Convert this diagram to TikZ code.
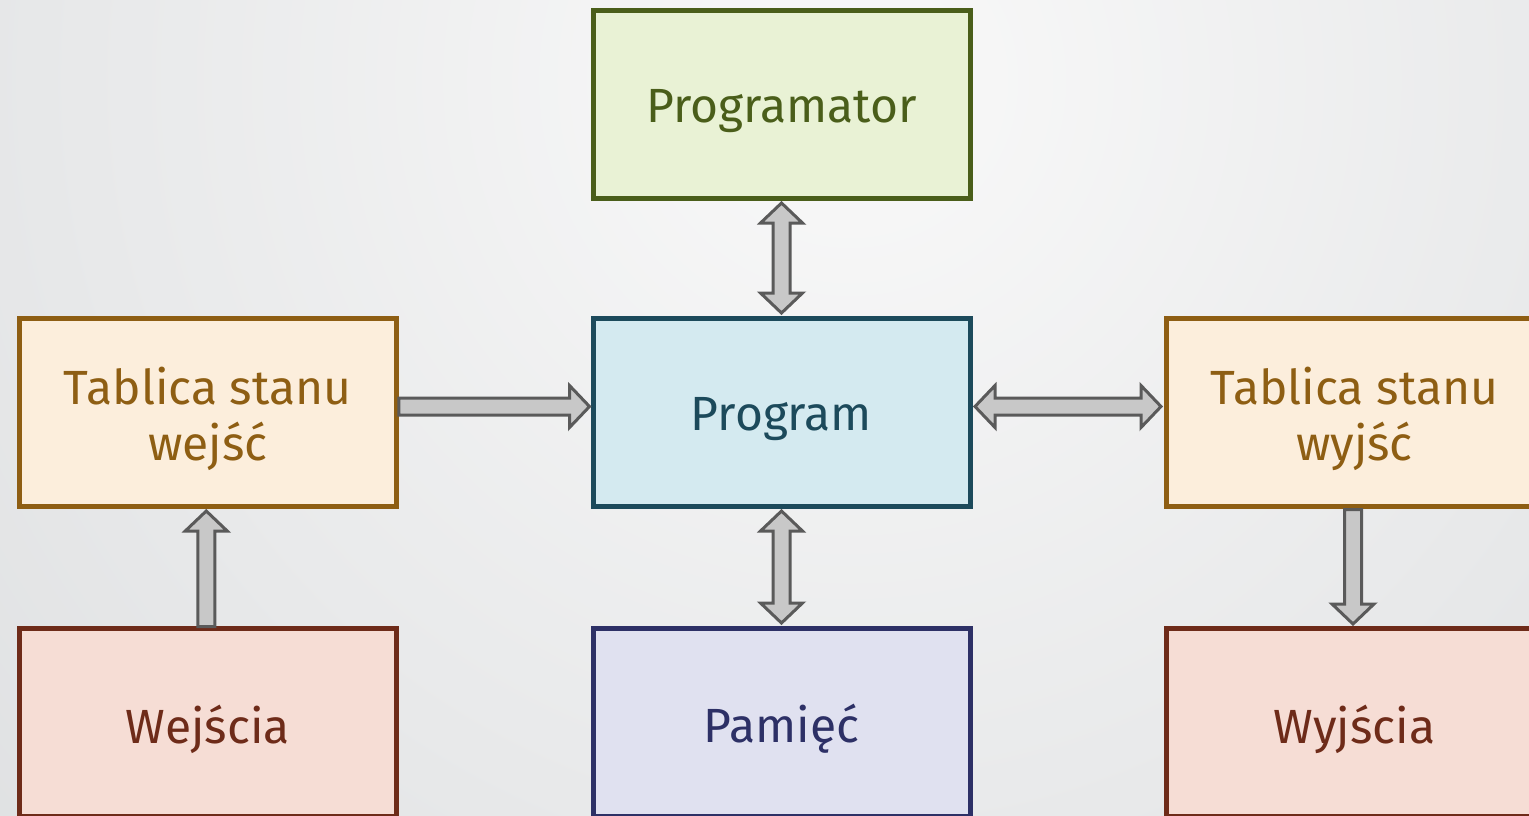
\documentclass[tikz,border=0pt]{standalone}
\usepackage{fontspec}
\setmainfont{Fira Sans}
\usetikzlibrary{calc}
\definecolor{bgin}{HTML}{F9F9F9}
\definecolor{bgout}{HTML}{C6C9CC}
\definecolor{grnfill}{HTML}{E9F2D5}
\definecolor{grnline}{HTML}{4A5E1A}
\definecolor{bluefill}{HTML}{D4EAF0}
\definecolor{blueline}{HTML}{1C4A5B}
\definecolor{purfill}{HTML}{E0E1F0}
\definecolor{purline}{HTML}{2D3066}
\definecolor{orfill}{HTML}{FCEEDC}
\definecolor{orline}{HTML}{8E5E13}
\definecolor{redfill}{HTML}{F6DDD5}
\definecolor{redline}{HTML}{6E2B19}
\definecolor{arrfill}{HTML}{C8C8C8}
\definecolor{arrline}{HTML}{5A5A5A}
\newcommand\lw[1]{\raisebox{-7pt}[\height][\depth]{#1}}
\newcommand\myvdouble[2]{%
  \draw[blockarrow] let \p1=(#1), \p2=(#2) in
   (\x1,\y1) -- (\x1+21pt,\y1-20pt) -- (\x1+8.5pt,\y1-20pt) -- (\x1+8.5pt,\y2+20pt)
   -- (\x1+21pt,\y2+20pt) -- (\x1,\y2) -- (\x1-21pt,\y2+20pt) -- (\x1-8.5pt,\y2+20pt)
   -- (\x1-8.5pt,\y1-20pt) -- (\x1-21pt,\y1-20pt) -- cycle;}
\newcommand\myhdouble[2]{%
  \draw[blockarrow] let \p1=(#1), \p2=(#2) in
   (\x1,\y1) -- (\x1+20pt,\y1+21pt) -- (\x1+20pt,\y1+8.5pt) -- (\x2-20pt,\y1+8.5pt)
   -- (\x2-20pt,\y1+21pt) -- (\x2,\y1) -- (\x2-20pt,\y1-21pt) -- (\x2-20pt,\y1-8.5pt)
   -- (\x1+20pt,\y1-8.5pt) -- (\x1+20pt,\y1-21pt) -- cycle;}
\newcommand\myhsingle[2]{%
  \draw[blockarrow] let \p1=(#1), \p2=(#2) in
   (\x1,\y1+8.5pt) -- (\x2-20pt,\y1+8.5pt) -- (\x2-20pt,\y1+21pt) -- (\x2,\y1)
   -- (\x2-20pt,\y1-21pt) -- (\x2-20pt,\y1-8.5pt) -- (\x1,\y1-8.5pt) -- cycle;}
\newcommand\myvup[2]{%
  \draw[blockarrow] let \p1=(#1), \p2=(#2) in
   (\x1+8.5pt,\y1) -- (\x1+8.5pt,\y2-20pt) -- (\x1+21pt,\y2-20pt) -- (\x1,\y2)
   -- (\x1-21pt,\y2-20pt) -- (\x1-8.5pt,\y2-20pt) -- (\x1-8.5pt,\y1) -- cycle;}
\newcommand\myvdown[2]{%
  \draw[blockarrow] let \p1=(#1), \p2=(#2) in
   (\x1+8.5pt,\y1) -- (\x1+8.5pt,\y2+20pt) -- (\x1+21pt,\y2+20pt) -- (\x1,\y2)
   -- (\x1-21pt,\y2+20pt) -- (\x1-8.5pt,\y2+20pt) -- (\x1-8.5pt,\y1) -- cycle;}
\begin{document}
\begin{tikzpicture}[x=1pt,y=-1pt,
  box/.style={draw, line width=5pt, minimum width=377pt, minimum height=188pt,
    inner sep=0pt, align=center, font=\fontsize{48}{56}\selectfont},
  blockarrow/.style={fill=arrfill, draw=arrline, line width=3pt, line join=miter}]
\useasboundingbox (0,0) rectangle (1529,815);
\begin{scope}
  \clip (0,0) rectangle (1529,815);
  \shade[inner color=bgin, outer color=bgout] (850-2300,80-2300) rectangle (850+2300,80+2300);
\end{scope}
\node[box, fill=grnfill, draw=grnline, text=grnline] (progr) at (781.5,104) {\lw{Programator}};
\node[box, fill=bluefill, draw=blueline, text=blueline] (prog) at (781.5,412) {\lw{Program}};
\node[box, fill=purfill, draw=purline, text=purline] (pam) at (781.5,722) {\lw{Pamięć}};
\node[box, fill=orfill, draw=orline, text=orline] (tabwe) at (207.75,412) {\lw{Tablica stanu}\\\lw{wejść}};
\node[box, fill=redfill, draw=redline, text=redline] (wej) at (207.75,722) {\lw{Wejścia}};
\node[box, fill=orfill, draw=orline, text=orline] (tabwy) at (1354.5,412) {\lw{Tablica stanu}\\\lw{wyjść}};
\node[box, fill=redfill, draw=redline, text=redline] (wyj) at (1354.5,722) {\lw{Wyjścia}};
\myvdouble{[yshift=-2.5pt]progr.south}{[yshift=2.5pt]prog.north}
\myvdouble{[yshift=-2.5pt]prog.south}{[yshift=2.5pt]pam.north}
\myhsingle{[yshift=5.5pt]tabwe.east}{[xshift=-1pt,yshift=5.5pt]prog.west}
\myhdouble{[xshift=2.5pt,yshift=5.5pt]prog.east}{[xshift=-2.5pt,yshift=5.5pt]tabwy.west}
\myvup{[xshift=-1.5pt,yshift=-1pt]wej.north}{[yshift=-2.5pt]tabwe.south}
\myvdown{[xshift=-1.5pt,yshift=-1pt]tabwy.south}{[yshift=1.5pt]wyj.north}
\end{tikzpicture}
\end{document}
